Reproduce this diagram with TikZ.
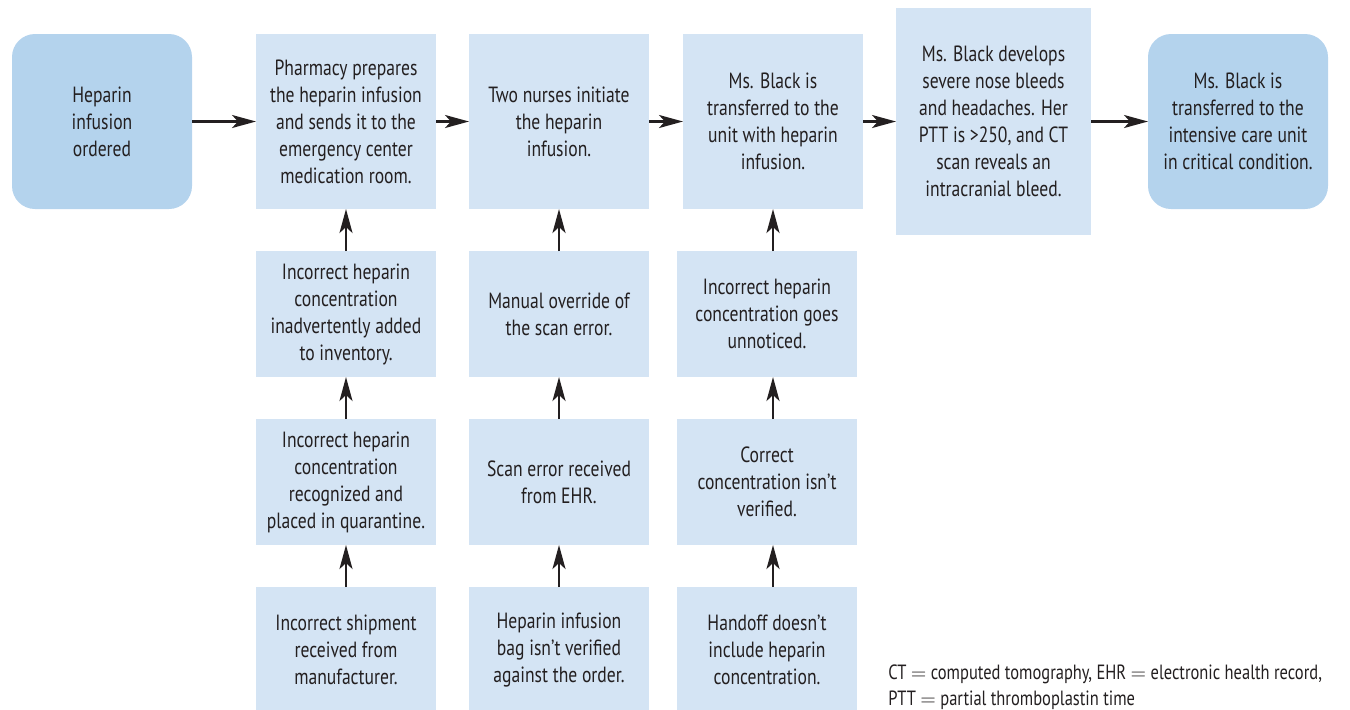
\documentclass[tikz,border=0pt]{standalone}
\usepackage{xcolor}
\usepackage{fontspec}
\setmainfont[FakeStretch=0.8]{PT Sans}
\usepackage{tikz}
\usetikzlibrary{shapes,arrows.meta,positioning,calc}
\definecolor{boxblue}{RGB}{212,228,244}
\definecolor{endblue}{RGB}{180,211,237}
\definecolor{ink}{RGB}{35,31,32}
\tikzstyle{event} = [rectangle, minimum width=90pt, minimum height=87.5pt, inner sep=0pt, outer sep=0pt, align=center, fill=boxblue, text=ink, font=\fontsize{11}{13.5}\selectfont]
\tikzstyle{cause} = [event, minimum height=63pt]
\tikzstyle{terminal} = [event, rounded corners=11.5pt, fill=endblue]
\tikzstyle{arrow} = [line width=1.3pt,-{Stealth[length=12pt,width=6.5pt,inset=3pt]},draw=ink]

\begin{document}
\begin{tikzpicture}
					\useasboundingbox (0,0) rectangle (675pt,-354.5pt);
					% main line of events
					\node (Ordered) [terminal, anchor=north west] at (6pt,-17pt) {Heparin\\infusion\\ordered};
					\node (Pharmacy) [event, right=32pt of Ordered] {Pharmacy prepares\\the heparin infusion\\and sends it to the\\emergency center\\medication room.};
					\node (Nurses) [event, right=16.5pt of Pharmacy] {Two nurses initiate\\the heparin\\infusion.};
					\node (Transfer) [event, right=17pt of Nurses] {Ms. Black is\\transferred to the\\unit with heparin\\infusion.};
					\node (Bleed) [event, minimum width=97.5pt, minimum height=113.5pt, right=16.5pt of Transfer] {Ms. Black develops\\severe nose bleeds\\and headaches. Her\\PTT is >250, and CT\\scan reveals an\\intracranial bleed.};
					\node (ICU) [terminal, right=28.5pt of Bleed] {Ms. Black is\\transferred to the\\intensive care unit\\in critical condition.};
					
					% contributing causes
					\node (Inventory) [cause, below=21pt of Pharmacy] {Incorrect heparin\\concentration\\inadvertently added\\to inventory.};
					\node (Quarantine) [cause, below=21pt of Inventory] {Incorrect heparin\\concentration\\recognized and\\placed in quarantine.};
					\node (Shipment) [cause, below=21pt of Quarantine] {Incorrect shipment\\received from\\manufacturer.};
					\node (Override) [cause, below=21pt of Nurses] {Manual override of\\the scan error.};
					\node (ScanError) [cause, below=21pt of Override] {Scan error received\\from EHR.};
					\node (BagCheck) [cause, below=21pt of ScanError] {Heparin infusion\\bag isn’t verified\\against the order.};
					\node (Unnoticed) [cause, below=21pt of Transfer, xshift=-3pt] {Incorrect heparin\\concentration goes\\unnoticed.};
					\node (NotVerified) [cause, below=21pt of Unnoticed] {Correct\\concentration isn’t\\verified.};
					\node (Handoff) [cause, below=21pt of NotVerified] {Handoff doesn’t\\include heparin\\concentration.};
					
					\node (Legend) [anchor=north west, inner sep=0pt, align=left, text=ink, font=\fontsize{10.3}{13}\selectfont] at (444pt,-332pt) {CT $=$ computed tomography, EHR $=$ electronic health record,\\PTT $=$ partial thromboplastin time};
					
					\draw[arrow] (Ordered) -- (Pharmacy);
					\draw[arrow] (Pharmacy) -- (Nurses);
					\draw[arrow] (Nurses) -- (Transfer);
					\draw[arrow] (Transfer) -- (Bleed);
					\draw[arrow] (Bleed) -- (ICU);
					
					\draw[arrow] (Shipment) -- (Quarantine);
					\draw[arrow] (Quarantine) -- (Inventory);
					\draw[arrow] (Inventory) -- (Pharmacy);
					\draw[arrow] (BagCheck) -- (ScanError);
					\draw[arrow] (ScanError) -- (Override);
					\draw[arrow] (Override) -- (Nurses);
					\draw[arrow] (Handoff.north -| Transfer) -- (NotVerified.south -| Transfer);
					\draw[arrow] (NotVerified.north -| Transfer) -- (Unnoticed.south -| Transfer);
					\draw[arrow] (Unnoticed.north -| Transfer) -- (Transfer);
				\end{tikzpicture}
\end{document}
